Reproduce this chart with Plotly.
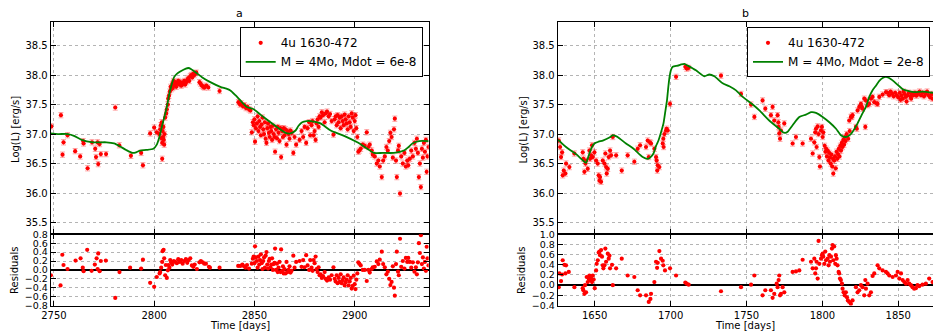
import plotly.graph_objects as go

# ---------------- Panel a : data ----------------
a_t = [2748.7, 2753.5, 2754.3, 2754.8, 2756.8, 2760.6, 2763.1, 2764.6, 2764.8, 2766.8,
       2769.0, 2770.6, 2771.0, 2771.8, 2772.1, 2772.8, 2773.4, 2776.0, 2780.6, 2782.6,
       2788.4, 2793.5, 2794.4, 2798.0, 2800.0,
       2801.3, 2802.5, 2803.0, 2803.3, 2803.6, 2803.8, 2804.0, 2804.2, 2804.4, 2804.6,
       2804.8, 2804.0, 2805.0, 2805.2, 2805.5, 2806.0, 2806.3, 2806.8, 2807.0, 2807.4,
       2807.8, 2808.2, 2808.5, 2809.0, 2809.3, 2809.6, 2810.0, 2810.5, 2811.0, 2811.5,
       2812.0, 2812.5, 2813.0, 2813.5, 2814.0, 2814.5, 2815.0, 2815.5, 2816.0, 2816.5,
       2817.0, 2817.5, 2818.0, 2818.5, 2819.0, 2819.5, 2820.0, 2820.5, 2821.0, 2822.6,
       2823.2, 2823.8, 2824.5, 2825.0, 2826.0, 2827.0, 2832.6, 2842.0, 2842.8, 2843.5,
       2844.3, 2845.0, 2845.8, 2846.5, 2847.3, 2848.0,
       2848.7, 2849.2, 2849.6, 2850.0, 2850.3, 2850.7, 2851.2, 2851.6, 2852.0, 2852.4,
       2852.8, 2853.2, 2853.6, 2854.0, 2854.4, 2854.8, 2855.2, 2855.6, 2856.0, 2856.4,
       2856.8, 2857.2, 2857.6, 2858.0, 2858.4, 2858.8, 2859.2, 2859.6, 2860.0, 2860.3,
       2860.8, 2861.2, 2861.6, 2862.0, 2862.5, 2863.0, 2863.3, 2863.8, 2864.2, 2864.6,
       2865.0, 2865.5, 2866.0, 2866.5, 2867.0, 2867.5, 2868.0, 2868.5, 2869.4, 2870.0,
       2870.8,
       2872.5, 2873.5, 2874.3, 2875.0, 2875.8, 2876.5, 2877.3, 2877.8, 2878.5, 2879.0,
       2879.5, 2880.0, 2880.5, 2881.0, 2881.5, 2882.0, 2882.5, 2883.0, 2883.6, 2884.2,
       2885.0, 2885.5, 2886.2, 2887.0, 2887.7, 2888.5, 2889.4,
       2890.0, 2890.5, 2891.0, 2891.5, 2892.0, 2892.5, 2893.0, 2893.5, 2894.0, 2894.5,
       2895.0, 2895.5, 2896.0, 2896.5, 2897.0, 2897.5, 2898.0, 2898.5, 2899.0, 2899.5,
       2900.0, 2900.4, 2900.8, 2901.3,
       2901.8, 2902.3, 2903.0, 2904.0, 2905.0, 2906.0, 2906.8, 2907.5, 2908.5, 2909.0,
       2910.0, 2911.0, 2911.8, 2912.5, 2913.5, 2914.2, 2915.0, 2915.8, 2916.5, 2917.2,
       2917.8, 2918.4, 2919.0, 2919.6, 2920.0, 2920.6, 2921.0, 2921.6, 2922.0, 2922.6,
       2923.2, 2924.0, 2924.8, 2925.5, 2926.2, 2926.7, 2927.5, 2928.2, 2929.0, 2929.8,
       2930.5, 2931.0, 2931.5, 2932.0, 2932.5, 2933.0, 2933.5, 2934.0, 2934.5, 2935.0,
       2935.5, 2935.9, 2936.3, 2936.8]
a_logL = [37.13, 37.32, 36.65, 36.86, 36.98, 36.71, 36.62, 36.88, 36.84, 36.42,
          36.86, 36.75, 36.61, 36.86, 36.49, 36.83, 36.66, 36.66, 37.45, 36.81,
          36.63, 36.68, 36.47, 37.01, 37.11,
          37.03, 37.00, 37.08, 37.15, 36.93, 37.20, 36.85, 37.05, 36.95, 37.12,
          36.90, 36.58, 36.82, 37.00, 37.28, 37.35, 37.42, 37.50, 37.60, 37.65,
          37.72, 37.80, 37.76, 37.85, 37.78, 37.90, 37.83, 37.88, 37.80, 37.86,
          37.90, 37.84, 37.88, 37.82, 37.87, 37.85, 37.90, 37.84, 37.88, 37.92,
          37.95, 37.90, 37.98, 38.00, 37.96, 38.02, 38.00, 38.03, 38.04, 37.88,
          37.85, 37.82, 37.80, 37.79, 37.82, 37.79, 37.73, 37.54, 37.50, 37.52,
          37.47, 37.49, 37.44, 37.46, 37.42, 37.40,
          37.03, 37.20, 37.15, 37.25, 36.87, 37.10, 37.18, 37.30, 37.05, 37.22,
          37.12, 36.98, 37.16, 37.28, 37.08, 37.00, 37.20, 36.92, 36.85, 37.10,
          37.18, 37.02, 36.95, 37.12, 37.05, 36.90, 37.14, 37.00, 36.95, 36.70,
          37.08, 36.93, 37.12, 37.02, 36.88, 37.10, 36.61, 37.05, 36.95, 37.10,
          36.98, 37.08, 36.82, 37.05, 37.00, 36.92, 37.06, 37.02, 36.68, 36.95,
          36.82,
          36.90, 37.05, 36.95, 37.12, 36.85, 37.10, 37.20, 36.98, 37.15, 37.22,
          36.98, 37.05, 36.90, 37.18, 37.25, 37.12, 37.30, 37.28, 37.37, 37.32,
          37.20, 37.35, 37.38, 37.30, 37.34, 37.22, 36.99,
          37.25, 37.30, 37.15, 37.32, 37.20, 37.28, 37.10, 37.30, 37.22, 37.15,
          37.33, 37.25, 37.18, 37.08, 37.30, 37.20, 37.12, 37.35, 37.28, 37.05,
          37.22, 37.32, 37.10, 36.95,
          36.70, 36.72, 36.75, 36.82, 36.80, 37.03, 36.78, 36.82, 36.72, 36.65,
          36.62, 36.50, 36.55, 36.45, 36.27, 36.55, 36.62, 36.78, 36.72, 36.88,
          37.02, 36.95, 36.60, 37.08, 37.26, 36.55, 36.27, 36.72, 36.80, 35.99,
          36.62, 36.50, 36.68, 36.45, 36.55, 36.47, 36.58, 36.72, 36.62, 36.85,
          36.75, 36.92, 36.68, 36.27, 36.50, 36.10, 36.75, 36.60, 36.85, 36.70,
          36.90, 36.36, 36.62, 36.78]

a_model_t = [2748.4, 2752.0, 2757.0, 2760.0, 2763.8, 2769.6, 2776.2, 2780.0, 2783.0, 2786.0,
             2789.2, 2791.0, 2793.0, 2796.0, 2799.6, 2801.3, 2802.6, 2803.8, 2805.0, 2806.3,
             2807.5, 2808.8, 2810.0, 2811.3, 2813.0, 2815.8, 2817.0, 2818.5, 2821.3, 2824.0,
             2828.0, 2833.0, 2836.0, 2838.0, 2840.5, 2843.0, 2846.2, 2849.6, 2853.0, 2858.0,
             2862.0, 2865.5, 2868.0, 2870.5, 2872.0, 2873.8, 2876.0, 2878.0, 2883.0, 2888.0,
             2894.7, 2901.3, 2906.3, 2909.6, 2914.0, 2919.6, 2924.6, 2926.5, 2928.8, 2932.1,
             2936.9]
a_model = [37.01, 37.00, 37.00, 36.97, 36.90, 36.86, 36.86, 36.84, 36.79, 36.73,
           36.68, 36.69, 36.72, 36.73, 36.75, 36.82, 36.95, 37.12, 37.28, 37.46,
           37.67, 37.85, 37.97, 38.02, 38.06, 38.11, 38.12, 38.10, 38.03, 37.96,
           37.88, 37.80, 37.77, 37.74, 37.66, 37.57, 37.46, 37.42, 37.33, 37.20,
           37.10, 37.02, 37.01, 37.06, 37.14, 37.20, 37.22, 37.22, 37.18, 37.06,
           36.97, 36.86, 36.75, 36.68, 36.68, 36.68, 36.72, 36.77, 36.84, 36.88,
           36.88]

a_res_t = [2748.5, 2753.3, 2754.2, 2754.8, 2756.8, 2760.8, 2763.3, 2764.4, 2764.8, 2766.6,
           2768.8, 2770.4, 2771.3, 2771.8, 2772.1, 2772.8, 2773.4, 2775.9, 2780.6, 2782.7,
           2788.0, 2793.5, 2794.4, 2798.0, 2800.0,
           2801.3, 2802.7, 2803.0, 2803.5, 2804.0, 2804.2, 2804.7, 2805.0, 2805.5, 2805.8,
           2806.3, 2806.8, 2807.1, 2807.6, 2808.0, 2808.5, 2809.0, 2809.8, 2810.5, 2811.3,
           2812.0, 2812.8, 2813.5, 2814.2, 2815.0, 2815.8, 2816.5, 2817.2, 2818.0, 2818.8,
           2819.5, 2820.2, 2821.3, 2822.6, 2823.3, 2824.2, 2825.0, 2825.8, 2827.3, 2827.8,
           2832.6, 2841.9, 2843.0, 2844.0, 2844.8, 2845.6, 2846.3, 2847.3,
           2848.7, 2849.2, 2849.6, 2850.0, 2850.3, 2850.7, 2851.2, 2851.6, 2852.0, 2852.4,
           2852.8, 2853.2, 2853.6, 2854.0, 2854.4, 2854.8, 2855.2, 2855.6, 2856.0, 2856.4,
           2856.8, 2857.2, 2857.6, 2858.0, 2858.4, 2858.8, 2859.2, 2859.6, 2860.0, 2860.3,
           2860.8, 2861.2, 2861.6, 2862.0, 2862.5, 2863.0, 2863.3, 2863.8, 2864.2, 2864.6,
           2865.0, 2865.5, 2866.0, 2866.5, 2867.0, 2867.5, 2868.0, 2868.5, 2869.4, 2870.0,
           2870.8,
           2872.5, 2873.5, 2874.3, 2875.0, 2875.8, 2876.5, 2877.3, 2877.8, 2878.5, 2879.0,
           2879.5, 2880.0, 2880.5, 2881.0, 2881.5, 2882.0, 2882.5, 2883.0, 2883.6, 2884.2,
           2885.0, 2885.5, 2886.2, 2887.0, 2887.7, 2888.5, 2889.4,
           2890.0, 2890.5, 2891.0, 2891.5, 2892.0, 2892.5, 2893.0, 2893.5, 2894.0, 2894.5,
           2895.0, 2895.5, 2896.0, 2896.5, 2897.0, 2897.5, 2898.0, 2898.5, 2899.0, 2899.5,
           2900.0, 2900.4, 2900.8, 2901.3,
           2901.8, 2902.3, 2903.0, 2904.0, 2905.0, 2906.0, 2906.8, 2907.5, 2908.5, 2909.0,
           2910.0, 2911.0, 2911.8, 2912.5, 2913.5, 2914.2, 2915.0, 2915.8, 2916.5, 2917.2,
           2917.8, 2918.4, 2919.0, 2919.6, 2920.0, 2920.6, 2921.0, 2921.6, 2922.0, 2922.6,
           2923.2, 2924.0, 2924.8, 2925.5, 2926.2, 2926.7, 2927.5, 2928.2, 2929.0, 2929.8,
           2930.5, 2931.0, 2931.5, 2932.0, 2932.5, 2933.0, 2933.5, 2934.0, 2934.5, 2935.0,
           2935.5, 2935.9, 2936.3, 2936.8]
a_res = [-0.12, -0.35, 0.34, 0.11, 0.02, 0.21, 0.26, 0.05, -0.03, 0.45,
         -0.02, 0.12, 0.26, 0.02, 0.37, -0.03, 0.20, 0.21, -0.63, -0.05,
         0.05, 0.03, 0.23, -0.29, -0.38,
         -0.16, -0.08, -0.05, 0.05, 0.18, 0.42, 0.45, 0.26, -0.12, 0.11,
         -0.18, -0.01, 0.11, 0.05, 0.22, 0.17, 0.12, 0.20, 0.18, 0.15,
         0.24, 0.18, 0.22, 0.14, 0.20, 0.24, 0.16, 0.22, 0.26, 0.10,
         0.07, 0.12, 0.02, 0.17, 0.20, 0.17, 0.14, 0.14, 0.07, 0.05,
         0.05, 0.09, 0.09, 0.12, 0.08, 0.05, 0.11, 0.03,
         0.14, 0.25, 0.30, 0.15, 0.53, 0.28, 0.20, 0.05, 0.30, 0.12,
         0.22, 0.35, 0.15, 0.02, 0.20, 0.28, 0.05, 0.32, 0.40, 0.12,
         0.03, 0.20, 0.25, 0.06, 0.12, 0.26, 0.00, 0.13, 0.16, 0.48,
         0.00, 0.14, -0.05, 0.05, 0.18, -0.05, 0.46, -0.02, 0.08, -0.08,
         0.02, -0.08, 0.18, -0.05, 0.00, 0.08, -0.06, -0.02, 0.32, 0.05,
         0.18,
         0.20, 0.07, 0.22, 0.06, 0.33, 0.10, 0.00, 0.22, 0.05, -0.02,
         0.22, 0.15, 0.30, 0.02, -0.05, 0.06, -0.12, -0.10, -0.18, -0.14,
         -0.05, -0.20, -0.24, -0.17, -0.22, -0.12, 0.06,
         -0.20, -0.26, -0.12, -0.30, -0.18, -0.27, -0.10, -0.30, -0.23, -0.17,
         -0.35, -0.28, -0.22, -0.12, -0.35, -0.26, -0.18, -0.42, -0.36, -0.13,
         -0.32, -0.43, -0.22, -0.08,
         0.17, 0.14, 0.10, 0.00, 0.00, -0.25, 0.00, -0.06, 0.02, 0.06,
         0.07, 0.19, 0.13, 0.23, 0.41, 0.13, 0.06, -0.10, -0.04, -0.20,
         -0.34, -0.27, 0.08, -0.40, -0.58, 0.13, 0.41, -0.04, -0.12, 0.70,
         0.07, 0.20, 0.03, 0.27, 0.18, 0.27, 0.18, 0.05, 0.17, -0.04,
         0.06, -0.10, 0.17, 0.60, 0.38, 0.78, 0.13, 0.28, 0.03, 0.18,
         -0.02, 0.52, 0.26, 0.10]

# ---------------- Panel b : data ----------------
b_t = [1626.3, 1627.2, 1627.8, 1628.5, 1628.9, 1629.6, 1630.7, 1631.1, 1633.3, 1636.6,
       1642.1, 1642.5, 1643.2, 1643.9, 1644.3, 1645.4, 1646.5, 1646.9, 1647.6, 1648.2,
       1648.7, 1649.8, 1650.9, 1652.0, 1652.6, 1653.1, 1653.5, 1654.2, 1655.3, 1656.4,
       1657.0, 1657.5, 1657.9, 1658.6, 1659.2, 1660.1, 1660.8, 1661.9, 1664.1, 1667.8,
       1671.7, 1676.1, 1678.3, 1679.9, 1683.8, 1684.9, 1685.6, 1686.4, 1687.1, 1689.3,
       1690.4, 1690.8, 1691.2, 1691.5, 1692.6, 1694.8, 1695.2, 1695.4, 1695.9, 1697.0,
       1697.4, 1698.1, 1699.6, 1703.6, 1709.7, 1710.6, 1711.9, 1733.2, 1746.4, 1753.0,
       1755.2, 1760.6, 1762.4, 1766.1, 1767.2, 1768.3, 1770.5, 1771.0, 1771.2, 1771.6,
       1772.1, 1772.7, 1774.9, 1780.4, 1782.6, 1787.0, 1792.5, 1793.6, 1794.7, 1795.3,
       1795.8, 1796.2, 1796.9, 1797.5, 1798.0, 1798.4, 1799.1, 1799.7, 1800.2, 1800.6,
       1801.5, 1802.0, 1802.5, 1803.0, 1803.5, 1804.0, 1804.5, 1805.0, 1805.5, 1806.0,
       1806.5, 1807.0, 1807.2, 1807.8, 1808.3, 1808.8, 1809.3, 1809.8, 1810.3, 1810.8,
       1811.3, 1811.8, 1812.3, 1812.8, 1813.3, 1813.8, 1814.3, 1814.8, 1815.3, 1816.0,
       1817.0, 1818.0,
       1817.7, 1818.8, 1819.4, 1819.9, 1822.1, 1822.7, 1823.2, 1824.3, 1825.4, 1826.0,
       1826.5, 1827.6, 1828.3, 1828.7, 1829.8, 1830.9, 1832.0, 1833.1, 1834.2, 1835.9,
       1836.4, 1837.5, 1839.7, 1841.9,
       1843.0, 1844.0, 1845.0, 1846.0, 1847.0, 1848.0, 1849.0, 1850.0, 1851.0, 1851.5,
       1852.0, 1853.0, 1853.5, 1854.0, 1855.0, 1855.5, 1856.0, 1857.0, 1858.0, 1858.5,
       1859.0, 1860.0, 1861.0, 1862.0, 1863.0, 1864.0, 1865.0, 1866.0, 1867.0, 1868.0,
       1869.0, 1870.0, 1871.0, 1872.0, 1872.7]
b_logL = [36.89, 36.78, 36.61, 36.69, 36.30, 36.38, 36.33, 36.50, 36.44, 36.67,
          36.69, 36.58, 36.36, 36.50, 36.55, 36.41, 36.72, 36.58, 36.64, 36.81,
          36.61, 36.69, 36.55, 36.50, 36.30, 36.21, 36.27, 36.19, 36.55, 36.50,
          36.67, 36.44, 36.33, 36.41, 36.61, 36.72, 36.64, 36.95, 36.64, 36.38,
          36.64, 36.53, 36.75, 36.81, 36.78, 36.89, 36.61, 36.86, 36.84, 36.75,
          36.61, 36.55, 36.38, 36.47, 36.44, 36.84, 36.92, 36.78, 37.00, 37.06,
          37.09, 37.06, 37.51, 37.97, 38.14, 38.11, 38.12, 37.99, 37.68, 37.50,
          37.29, 37.57, 37.43, 37.32, 37.46, 37.23, 37.32, 37.20, 37.12, 37.01,
          36.92, 37.06, 37.18, 36.84, 36.95, 36.84, 36.92, 36.67, 36.86, 37.03,
          37.09, 36.78, 37.13, 37.00, 36.61, 36.45, 37.06, 37.12, 36.95, 37.03,
          36.80, 36.70, 36.75, 36.62, 36.72, 36.55, 36.68, 36.60, 36.50, 36.65,
          36.45, 36.58, 36.33, 36.55, 36.62, 36.42, 36.70, 36.58, 36.66, 36.75,
          36.62, 36.80, 36.72, 36.85, 36.78, 36.90, 36.82, 36.95, 36.88, 37.00,
          36.92, 37.05,
          37.23, 37.29, 37.29, 37.32, 37.12, 37.09, 37.40, 37.46, 37.51, 37.46,
          37.43, 37.60, 37.12, 37.57, 37.49, 37.51, 37.60, 37.63, 37.54, 37.52,
          37.51, 37.63, 37.67, 37.71,
          37.70, 37.66, 37.72, 37.68, 37.64, 37.70, 37.66, 37.62, 37.70, 37.58,
          37.65, 37.60, 37.72, 37.68, 37.63, 37.55, 37.66, 37.70, 37.64, 37.60,
          37.68, 37.66, 37.70, 37.65, 37.68, 37.72, 37.66, 37.70, 37.64, 37.68,
          37.72, 37.66, 37.62, 37.68, 37.60]

b_model_t = [1625.6, 1626.3, 1631.1, 1637.7, 1643.2, 1644.3, 1645.2, 1646.5, 1648.0, 1649.8,
             1652.5, 1655.3, 1659.7, 1661.9, 1663.5, 1665.1, 1670.6, 1675.6, 1681.6, 1684.9,
             1686.5, 1688.7, 1690.4, 1692.0, 1693.7, 1695.3, 1696.5, 1697.6, 1698.5, 1699.3,
             1700.3, 1701.4, 1704.7, 1707.0, 1709.1, 1711.3, 1716.7, 1722.2, 1725.5, 1728.8,
             1734.3, 1738.7, 1743.1, 1747.5, 1754.1, 1758.5, 1765.0, 1771.6, 1774.0, 1775.5,
             1777.1, 1780.4, 1784.8, 1789.2, 1792.5, 1795.8, 1800.2, 1804.6, 1809.0, 1812.2,
             1815.5, 1818.8, 1821.0, 1823.2, 1826.0, 1828.7, 1830.9, 1833.0, 1835.3, 1837.5,
             1839.7, 1841.9, 1844.0, 1846.3, 1850.7, 1853.0, 1855.1, 1860.5, 1866.0, 1872.9]
b_model = [36.90, 36.89, 36.78, 36.66, 36.53, 36.51, 36.57, 36.67, 36.77, 36.84,
           36.87, 36.89, 36.94, 36.98, 36.97, 36.95, 36.84, 36.75, 36.61, 36.58,
           36.60, 36.67, 36.80, 36.89, 37.03, 37.18, 37.38, 37.57, 37.80, 37.97,
           38.09, 38.14, 38.16, 38.18, 38.19, 38.16, 38.08, 37.98, 38.01, 37.98,
           37.86, 37.81, 37.74, 37.63, 37.50, 37.40, 37.23, 37.09, 37.03, 37.02,
           37.04, 37.15, 37.29, 37.33, 37.37, 37.36, 37.29, 37.20, 37.09, 36.98,
           36.95, 37.00, 37.08, 37.18, 37.33, 37.46, 37.63, 37.74, 37.82, 37.90,
           37.95, 37.97, 37.95, 37.91, 37.81, 37.76, 37.74, 37.71, 37.72, 37.70]

b_res_t = [1626.3, 1626.7, 1627.8, 1628.5, 1628.9, 1630.0, 1630.7, 1631.1, 1632.9, 1636.6,
           1642.1, 1642.5, 1643.2, 1643.6, 1644.3, 1644.7, 1645.4, 1646.0, 1646.5, 1646.9,
           1647.6, 1648.2, 1648.7, 1649.3, 1650.0, 1650.9, 1651.3, 1652.0, 1652.6, 1653.1,
           1653.5, 1654.2, 1654.8, 1655.3, 1655.7, 1656.4, 1657.0, 1657.5, 1658.6, 1659.2,
           1659.7, 1660.1, 1661.4, 1661.9, 1664.1, 1667.8, 1671.7, 1676.1, 1678.3, 1679.9,
           1683.8, 1685.6, 1686.7, 1687.1, 1689.3, 1690.4, 1691.1, 1691.5, 1692.6, 1693.7,
           1694.8, 1695.2, 1696.3, 1699.6, 1703.6, 1709.7, 1710.6, 1711.9, 1733.2, 1746.4,
           1753.0, 1755.2, 1760.6, 1762.4, 1766.1, 1767.2, 1768.3, 1769.9, 1770.5, 1771.2,
           1771.6, 1772.1, 1772.7, 1773.8, 1774.9, 1780.4, 1782.6, 1784.8, 1787.0, 1792.5,
           1793.6, 1794.7, 1795.3, 1795.8, 1796.2, 1796.9, 1797.5, 1798.0, 1799.1, 1799.7,
           1800.2, 1800.6, 1801.3, 1801.9, 1802.4, 1803.5, 1804.1, 1804.6, 1805.0, 1805.7,
           1806.3, 1806.7, 1807.2, 1807.8, 1808.5, 1808.9, 1809.4, 1810.0, 1810.7, 1811.1,
           1811.6, 1812.2, 1812.9, 1813.3, 1814.0, 1814.7, 1815.5, 1816.2, 1816.8, 1817.7,
           1818.8, 1819.9, 1822.1, 1823.2, 1824.3, 1825.4, 1826.5, 1827.6, 1828.3, 1828.7,
           1829.8, 1830.9, 1832.0, 1833.1, 1834.2, 1836.4, 1837.5, 1839.7, 1841.9, 1843.0,
           1844.1, 1846.3, 1848.5, 1849.6, 1850.7, 1851.8, 1852.9, 1854.0, 1855.1, 1856.2,
           1857.3, 1858.4, 1859.4, 1860.5, 1861.6, 1862.7, 1863.8, 1866.0, 1868.2, 1870.4,
           1872.6]
b_res = [-0.04, 0.23, 0.08, 0.21, 0.49, 0.40, 0.23, 0.39, 0.26, -0.04,
         -0.06, -0.10, -0.17, 0.00, -0.14, 0.16, 0.06, 0.13, 0.19, 0.10,
         0.14, 0.06, 0.19, 0.11, -0.06, 0.29, 0.42, 0.49, 0.64, 0.66,
         0.59, 0.69, 0.56, 0.39, 0.33, 0.39, 0.72, 0.46, 0.62, 0.52,
         0.58, 0.33, 0.40, 0.00, 0.33, 0.52, 0.19, 0.16, -0.10, -0.20,
         -0.20, -0.33, -0.27, -0.17, 0.06, 0.46, 0.34, 0.44, 0.67, 0.52,
         0.48, 0.39, 0.29, 0.33, 0.19, 0.05, 0.03, 0.01, -0.12, -0.04,
         0.01, 0.19, -0.20, -0.10, -0.10, -0.25, -0.17, 0.03, -0.04, 0.10,
         0.19, -0.20, -0.17, -0.04, -0.14, 0.26, 0.27, 0.29, 0.50, 0.46,
         0.33, 0.52, 0.23, 0.33, 0.46, 0.13, 0.87, 0.42, 0.52, 0.59,
         0.62, 0.56, 0.42, 0.66, 0.49, 0.52, 0.39, 0.59, 0.46, 0.56,
         0.72, 0.79, 0.49, 0.76, 0.42, 0.59, 0.52, 0.39, 0.26, 0.23,
         0.13, 0.10, 0.03, -0.07, -0.14, -0.20, -0.14, -0.24, -0.30, -0.33,
         -0.37, -0.30, -0.04, -0.14, -0.10, 0.00, -0.04, -0.20, 0.10, -0.07,
         0.03, -0.20, -0.14, 0.18, 0.23, 0.39, 0.33, 0.29, 0.26, 0.23,
         0.19, 0.16, 0.19, 0.26, 0.13, 0.23, 0.10, 0.06, 0.03, 0.10,
         0.03, 0.00, -0.04, -0.07, -0.06, 0.00, -0.02, 0.01, 0.03, 0.13,
         0.06]

# ---------------- Labels / ticks ----------------
series_name = "4u 1630-472"
model_name_a = "M = 4Mo, Mdot = 6e-8"
model_name_b = "M = 4Mo, Mdot = 2e-8"
a_xticks = [2750, 2800, 2850, 2900]
b_xticks = [1650, 1700, 1750, 1800, 1850]
logL_ticks = [35.5, 36.0, 36.5, 37.0, 37.5, 38.0, 38.5]
a_res_ticks = [-0.8, -0.6, -0.4, -0.2, 0.0, 0.2, 0.4, 0.6, 0.8]
b_res_ticks = [-0.4, -0.2, 0.0, 0.2, 0.4, 0.6, 0.8, 1.0]

# ---------------- Figure ----------------
W, H = 933, 332
def px(v):
    return v / W
def py(v):
    return 1 - v / H

FONT = "DejaVu Sans"
RED = "#ff0000"
GREEN = "#008000"
err = dict(type="constant", value=0.045, color="rgba(255,0,0,0.35)", thickness=1, width=2.5)
mk = dict(color=RED, size=4.2, line=dict(width=0))

fig = go.Figure()
# panel a
fig.add_trace(go.Scatter(x=a_t, y=a_logL, mode="markers", name=series_name, marker=mk,
                         error_y=err, xaxis="x", yaxis="y", legend="legend", legendrank=1))
fig.add_trace(go.Scatter(x=a_model_t, y=a_model, mode="lines", name=model_name_a,
                         line=dict(color=GREEN, width=1.8, shape="spline", smoothing=0.6),
                         xaxis="x", yaxis="y", legend="legend", legendrank=2))
fig.add_trace(go.Scatter(x=a_res_t, y=a_res, mode="markers", showlegend=False, marker=mk,
                         xaxis="x2", yaxis="y2"))
# panel b
fig.add_trace(go.Scatter(x=b_t, y=b_logL, mode="markers", name=series_name, marker=mk,
                         error_y=err, xaxis="x3", yaxis="y3", legend="legend2", legendrank=1))
fig.add_trace(go.Scatter(x=b_model_t, y=b_model, mode="lines", name=model_name_b,
                         line=dict(color=GREEN, width=1.8, shape="spline", smoothing=0.6),
                         xaxis="x3", yaxis="y3", legend="legend2", legendrank=2))
fig.add_trace(go.Scatter(x=b_res_t, y=b_res, mode="markers", showlegend=False, marker=mk,
                         xaxis="x4", yaxis="y4"))

common = dict(showline=True, linecolor="black", linewidth=1, ticks="inside", ticklen=5,
              tickcolor="black", showgrid=True, gridcolor="#b4b4b4", griddash="dot",
              gridwidth=1, zeroline=False, automargin=False,
              tickfont=dict(family=FONT, size=10, color="black"))
res_font = dict(family=FONT, size=9.5, color="black")

xa_dom = [px(50.7), px(428.7)]
xb_dom = [px(557.7), 1.0]
main_dom = [py(234.3), py(22)]
res_dom = [py(305.5), py(234.3)]

fig.update_layout(
    template="simple_white",
    xaxis=dict(common, domain=xa_dom, range=[2748.4, 2936.9], tickvals=a_xticks,
               showticklabels=False, anchor="y", mirror="ticks", matches="x2"),
    yaxis=dict(common, domain=main_dom, range=[35.3, 38.9], tickvals=logL_ticks,
               tickformat=".1f", anchor="x", mirror="ticks"),
    xaxis2=dict(common, domain=xa_dom, range=[2748.4, 2936.9], tickvals=a_xticks,
                anchor="y2", mirror="ticks"),
    yaxis2=dict(common, domain=res_dom, range=[-0.8, 0.8], tickvals=a_res_ticks,
                tickformat=".1f", anchor="x2", mirror="ticks", tickfont=res_font,
                zeroline=True, zerolinecolor="black", zerolinewidth=2),
    xaxis3=dict(common, domain=xb_dom, range=[1625.6, 1872.9], tickvals=b_xticks,
                showticklabels=False, anchor="y3", mirror="ticks", matches="x4"),
    yaxis3=dict(common, domain=main_dom, range=[35.3, 38.9], tickvals=logL_ticks,
                tickformat=".1f", anchor="x3", mirror=False),
    xaxis4=dict(common, domain=xb_dom, range=[1625.6, 1872.9], tickvals=b_xticks,
                anchor="y4", mirror="ticks"),
    yaxis4=dict(common, domain=res_dom, range=[-0.4, 1.0], tickvals=b_res_ticks,
                tickformat=".1f", anchor="x4", mirror=False, tickfont=res_font,
                zeroline=True, zerolinecolor="black", zerolinewidth=2),
    legend=dict(x=px(422.7), xanchor="right", y=py(27.3), yanchor="top",
                bgcolor="white", bordercolor="black", borderwidth=1,
                font=dict(family=FONT, size=12, color="black"), tracegroupgap=0),
    legend2=dict(x=px(930), xanchor="right", y=py(27.3), yanchor="top",
                 bgcolor="white", bordercolor="black", borderwidth=1,
                 font=dict(family=FONT, size=12, color="black"), tracegroupgap=0),
    width=W, height=H, margin=dict(l=0, r=0, t=0, b=0, autoexpand=False),
    paper_bgcolor="white", plot_bgcolor="white",
    font=dict(family=FONT, size=10, color="black"),
)

def ann(text, x, y, angle=0, size=10):
    fig.add_annotation(text=text, x=px(x), y=py(y), xref="paper", yref="paper",
                       showarrow=False, textangle=angle,
                       font=dict(family=FONT, size=size, color="black"),
                       xanchor="center", yanchor="middle")

ann("a", 239.7, 14, size=11)
ann("b", 745.3, 14, size=11)
ann("Log(L) [erg/s]", 15, 130, angle=-90)
ann("Residuals", 14, 271, angle=-90)
ann("Log(L) [erg/s]", 522.5, 130, angle=-90)
ann("Residuals", 521, 271, angle=-90)
ann("Time [days]", 239.7, 325)
ann("Time [days]", 745.3, 325)

fig.write_html("out.html", config={"displayModeBar": False},
               post_script="document.body.style.margin='0';document.body.style.overflow='hidden';")
